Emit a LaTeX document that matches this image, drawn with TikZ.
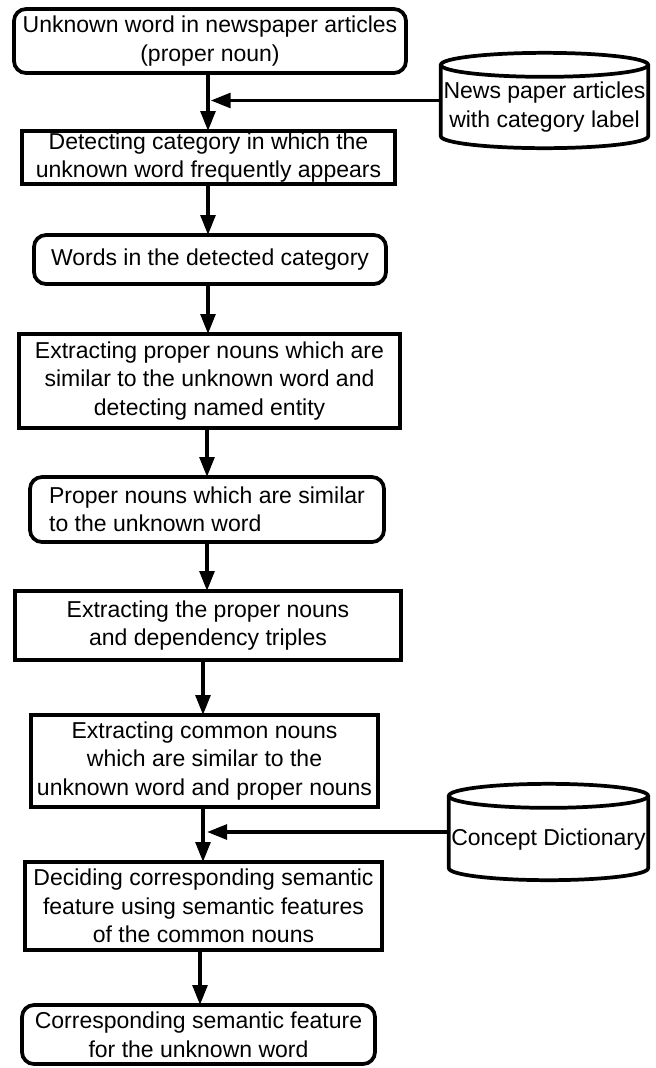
\documentclass[tikz,border=0pt]{standalone}
\usepackage{fontspec}
\setmainfont{Liberation Sans}
\usetikzlibrary{arrows.meta}
\tikzset{
  txt/.style={font=\fontsize{17.25pt}{21.4pt}\selectfont, align=center, inner sep=0pt, outer sep=0pt},
  procbox/.style={txt, draw, line width=2.8pt, fill=white},
  termbox/.style={procbox, rounded corners=9pt},
  flow/.style={line width=2.8pt, -{Triangle[length=15pt,width=11pt]}},
  cylline/.style={line width=2.8pt},
  cylarea/.style={inner sep=0pt, outer sep=0pt},
}
\begin{document}
\begin{tikzpicture}[x=0.75pt,y=-0.75pt]
\useasboundingbox (0,0) rectangle (656,1068);

% columns for the vertical connectors
\coordinate (xa) at (208,0);
\coordinate (xb) at (207,0);
\coordinate (xc) at (203,0);
\coordinate (xd) at (200,0);

\node[termbox, minimum width=294pt, minimum height=48pt] (b1) at (210,41)
  {Unknown word in newspaper articles\\(proper noun)};
\node[procbox, minimum width=279.75pt, minimum height=39.75pt] (b2) at (208.5,157.5)
  {Detecting category in which the\\unknown word frequently appears};
\node[termbox, minimum width=264pt, minimum height=36.75pt] (b3) at (210,259.5)
  {Words in the detected category};
\node[procbox, minimum width=285.75pt, minimum height=70.5pt] (b4) at (209.5,381)
  {Extracting proper nouns which are\\similar to the unknown word and\\detecting named entity};
\node[termbox, align=left, minimum width=265.5pt, minimum height=48.75pt] (b5) at (207,509.5)
  {Proper nouns which are similar\\to the unknown word};
\node[procbox, minimum width=289.5pt, minimum height=51.75pt] (b6) at (208,625.5)
  {Extracting the proper nouns\\and dependency triples};
\node[procbox, minimum width=260.25pt, minimum height=69pt] (b7) at (204.5,761)
  {Extracting common nouns\\which are similar to the\\unknown word and proper nouns};
\node[procbox, minimum width=267.75pt, minimum height=66pt] (b8) at (203.5,906)
  {Deciding corresponding semantic\\feature using semantic features\\of the common nouns};
\node[termbox, minimum width=264.75pt, minimum height=44.25pt] (b9) at (198.5,1034.5)
  {Corresponding semantic feature\\for the unknown word};

% databases
\node[cylarea, minimum width=155.5pt, minimum height=71.5pt] (c1) at (544.5,100.5) {};
\draw[cylline] ([yshift=-9pt]c1.north west) -- ([yshift=9pt]c1.south west)
  arc[start angle=180, end angle=360, x radius=77.75pt, y radius=9pt]
  -- ([yshift=-9pt]c1.north east);
\draw[cylline] ([yshift=-9pt]c1.north) ellipse [x radius=77.75pt, y radius=9pt];
\node[txt] (t1) at ([yshift=-5pt]c1.center) {News paper articles\\with category label};

\node[cylarea, minimum width=149.5pt, minimum height=72.25pt] (c2) at (548.5,832) {};
\draw[cylline] ([yshift=-9pt]c2.north west) -- ([yshift=9pt]c2.south west)
  arc[start angle=180, end angle=360, x radius=74.75pt, y radius=9pt]
  -- ([yshift=-9pt]c2.north east);
\draw[cylline] ([yshift=-9pt]c2.north) ellipse [x radius=74.75pt, y radius=9pt];
\node[txt] (t2) at ([yshift=-6pt]c2.center) {Concept Dictionary};

% connectors
\draw[flow] (b1.south -| xa) -- (b2.north -| xa);
\draw[flow] (b2.south -| xa) -- (b3.north -| xa);
\draw[flow] (b3.south -| xa) -- (b4.north -| xa);
\draw[flow] (b4.south -| xb) -- (b5.north -| xb);
\draw[flow] (b5.south -| xb) -- (b6.north -| xb);
\draw[flow] (b6.south -| xc) -- (b7.north -| xc);
\draw[flow] (b7.south -| xc) -- (b8.north -| xc);
\draw[flow] (b8.south -| xd) -- (b9.north -| xd);

\coordinate (j1) at ([xshift=2pt]c1.west -| xa);
\coordinate (j2) at ([xshift=3pt]c2.west -| xc);
\draw[flow] (c1.west) -- (j1);
\draw[flow] (c2.west) -- (j2);
\end{tikzpicture}
\end{document}
